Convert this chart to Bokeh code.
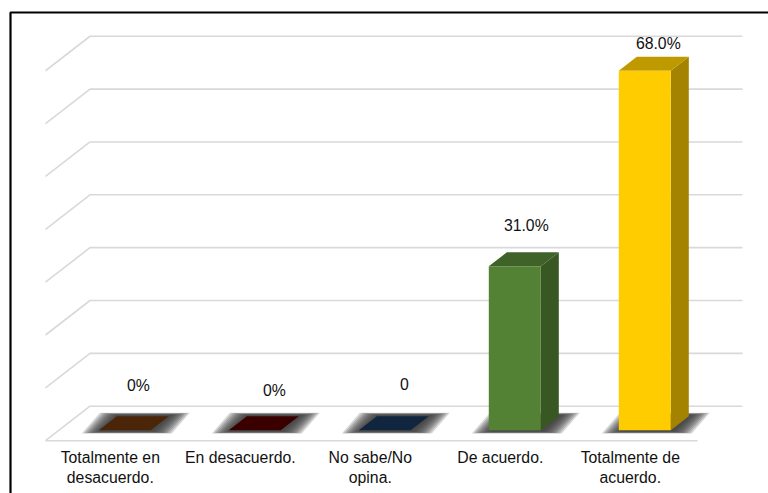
from bokeh.embed import file_html
from bokeh.resources import INLINE
from bokeh.plotting import figure
from bokeh.models import ColumnDataSource
from bokeh.core.properties import value

# Survey responses, in percent
categories = ["Totalmente en\ndesacuerdo.", "En desacuerdo.", "No sabe/No\nopina.", "De acuerdo.", "Totalmente de\nacuerdo."]
values = [0, 0, 0, 31.0, 68.0]
value_labels = ["0%", "0%", "0", "31.0%", "68.0%"]
grid_values = [0, 10, 20, 30, 40, 50, 60, 70]

front_colors = ["#4a2508", "#3a0000", "#10263f", "#548235", "#ffcc00"]
side_colors = ["#4a2508", "#3a0000", "#10263f", "#385723", "#a38300"]
top_colors = ["#4a2508", "#3a0000", "#10263f", "#3f6228", "#bf9900"]

W, H = 768, 493
X_STEP = 130.0      # pixels between categories
Y_UNIT = 5.285      # pixels per percentage point
X0_PX, Y0_PX = 124.3, 429.7   # where category 0 / value 0 land on the page

# 3D projection, expressed in data units
px = lambda n: n / X_STEP
py = lambda n: n / Y_UNIT
fx = lambda n: (n - X0_PX) / X_STEP
fy = lambda n: (Y0_PX - n) / Y_UNIT

p = figure(width=W, height=H, output_backend="svg", toolbar_location=None,
           x_range=(fx(0), fx(W)), y_range=(fy(H), fy(0)),
           min_border=0, outline_line_color=None, background_fill_color="white")
p.axis.visible = False
p.grid.visible = False

# Frame along the left and top edges
p.line([fx(10), fx(10), fx(W)], [fy(H), fy(12), fy(12)], line_color="black", line_width=2.2)

# Walls and floor: back line, then diagonal towards the viewer
GRID = "#d9d9d9"
wall_shift = py(24)
depth_x, depth_y = px(44.5), py(34.5)
for g in grid_values:
    y_back = g + wall_shift
    p.line([fx(45), fx(45) + depth_x, fx(742)],
           [y_back - depth_y, y_back, y_back],
           line_color=GRID, line_width=1.6)
p.line([fx(45), fx(697)], [wall_shift - depth_y] * 2, line_color=GRID, line_width=1.6)

half = px(26)
dx, dy = px(18), py(14)

# Soft floor shadows, stacked from wide and faint to narrow and dark
for spread in [20, 18, 16, 14, 12, 10, 8, 6, 4, 2]:
    xs, ys = [], []
    s = px(spread)
    v = py(spread * 0.12)
    for i in range(len(values)):
        xs.append([i - half - s + px(3), i + half + s + px(1),
                   i + half + dx + s + px(1), i - half + dx - s + px(3)])
        ys.append([-py(1) - v, -py(1) - v, py(15) + v, py(15) + v])
    p.patches(xs, ys, fill_color="#383838", fill_alpha=0.2, line_color=None)

# Bar faces: front, side, top
fx_xs, fx_ys, sd_xs, sd_ys, tp_xs, tp_ys = [], [], [], [], [], []
for i, v in enumerate(values):
    l, r = i - half, i + half
    fx_xs.append([l, r, r, l])
    fx_ys.append([0, 0, v, v])
    sd_xs.append([r, r + dx, r + dx, r])
    sd_ys.append([0, dy, v + dy, v])
    tp_xs.append([l, r, r + dx, l + dx])
    tp_ys.append([v, v, v + dy, v + dy])

p.patches(sd_xs, sd_ys, fill_color=side_colors, line_color=None)
p.patches(tp_xs, tp_ys, fill_color=top_colors, line_color=None)
nonzero = [i for i, v in enumerate(values) if v > 0]
p.patches([fx_xs[i] for i in nonzero], [fx_ys[i] for i in nonzero],
          fill_color=[front_colors[i] for i in nonzero], line_color=None)

FONT = value("Liberation Sans")

# Value labels above each bar
label_dx = [13.5, 19.5, 19.5, 11.5, 13.5]
label_dy = [-45, -40, -46, -41, -27]
p.text(x=list(range(5)), y=values, text=value_labels,
       x_offset=label_dx, y_offset=label_dy,
       text_font=FONT, text_font_size="15.8px", text_color="#111111",
       text_align="center", text_baseline="middle")

# Category labels under the floor
label_src = ColumnDataSource(dict(x=list(range(5)), y=[fy(448)] * 5, t=categories))
p.text(x="x", y="y", text="t", source=label_src, x_offset=-14.5,
       text_font=FONT, text_font_size="15.8px", text_color="#111111",
       text_align="center", text_baseline="top", text_line_height=1.2)

open("out.html", "w").write(file_html(p, INLINE))
